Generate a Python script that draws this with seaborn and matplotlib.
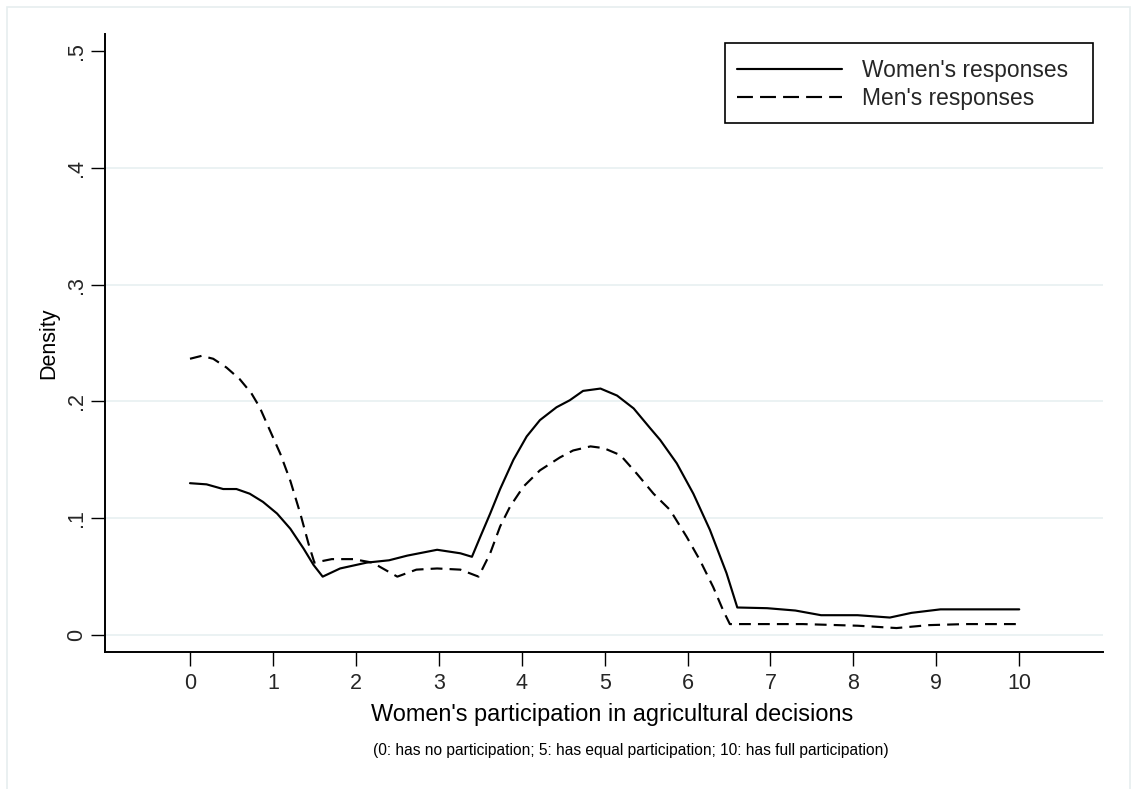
import numpy as np
import pandas as pd
import matplotlib
matplotlib.use("Agg")
import matplotlib.pyplot as plt
import seaborn as sns
from matplotlib.patches import Rectangle
from matplotlib.lines import Line2D

# ---- data ----
women_x = [0.00, 0.20, 0.40, 0.56, 0.72, 0.88, 1.05, 1.21, 1.37, 1.49, 1.60, 1.81,
           2.13, 2.40, 2.62, 2.98, 3.26, 3.40, 3.50, 3.62, 3.74, 3.90, 4.06, 4.22,
           4.42, 4.58, 4.74, 4.95, 5.15, 5.35, 5.55, 5.67, 5.87, 6.07, 6.27, 6.47,
           6.60, 6.96, 7.30, 7.61, 8.05, 8.44, 8.70, 9.05, 9.35, 9.65, 10.0]
women_y = [0.130, 0.129, 0.125, 0.125, 0.121, 0.114, 0.104, 0.091, 0.074, 0.060,
           0.050, 0.057, 0.062, 0.064, 0.068, 0.073, 0.070, 0.067, 0.084, 0.104,
           0.125, 0.150, 0.170, 0.184, 0.195, 0.201, 0.209, 0.211, 0.205, 0.194,
           0.177, 0.167, 0.147, 0.121, 0.090, 0.053, 0.0236, 0.023, 0.021, 0.017,
           0.017, 0.015, 0.019, 0.022, 0.022, 0.022, 0.022]

men_x = [0.00, 0.14, 0.28, 0.44, 0.60, 0.74, 0.84, 0.965, 1.09, 1.21, 1.33, 1.43,
         1.50, 1.71, 1.97, 2.20, 2.50, 2.73, 2.98, 3.26, 3.48, 3.62, 3.74, 3.86,
         4.02, 4.22, 4.46, 4.62, 4.83, 4.99, 5.19, 5.39, 5.59, 5.79, 5.99, 6.15,
         6.31, 6.43, 6.51, 6.74, 7.39, 8.05, 8.52, 8.91, 9.35, 10.0]
men_y = [0.2365, 0.239, 0.2365, 0.229, 0.219, 0.207, 0.195, 0.175, 0.155, 0.132,
         0.104, 0.078, 0.062, 0.065, 0.065, 0.062, 0.050, 0.056, 0.057, 0.056,
         0.050, 0.070, 0.093, 0.110, 0.127, 0.141, 0.152, 0.158, 0.1615, 0.160,
         0.154, 0.138, 0.121, 0.107, 0.084, 0.064, 0.041, 0.021, 0.0094, 0.0094,
         0.0094, 0.008, 0.006, 0.0085, 0.0094, 0.0094]

series_labels = ["Women's responses", "Men's responses"]
x_ticks = list(range(0, 11))
y_ticks = [0, 0.1, 0.2, 0.3, 0.4, 0.5]
y_tick_labels = ["0", ".1", ".2", ".3", ".4", ".5"]
x_title = "Women's participation in agricultural decisions"
x_note = "(0: has no participation; 5: has equal participation; 10: has full participation)"
y_title = "Density"

df = pd.concat([
    pd.DataFrame({"x": women_x, "y": women_y, "series": series_labels[0]}),
    pd.DataFrame({"x": men_x, "y": men_y, "series": series_labels[1]}),
], ignore_index=True)

sns.set_theme(style="white")
plt.rcParams['font.family'] = ['Liberation Sans', 'DejaVu Sans']

W, H = 1131, 789
fig = plt.figure(figsize=(W / 100, H / 100), dpi=100)
fig.patch.set_facecolor("white")

def fx(px):
    return px / W

def fy(py):
    return 1 - py / H

# outer light frame
fig.add_artist(Rectangle((fx(7), -0.05), (1130 - 7) / W, 1 - 7 / H + 0.05,
                         transform=fig.transFigure, fill=False,
                         edgecolor="#e6eeef", linewidth=1.2))

left, right, top, bottom = 105, 1103, 34, 652
ax = fig.add_axes([fx(left), fy(bottom), (right - left) / W, (bottom - top) / H])

for yv in y_ticks[:-1]:
    ax.axhline(yv, color="#e9f1f2", linewidth=1.3, zorder=0)

LW = 1.55
DASH = (5.5, 3.3)
sns.lineplot(data=df, x="x", y="y", style="series", sort=False, estimator=None,
             units="series", color="black", linewidth=LW,
             dashes={series_labels[0]: "", series_labels[1]: DASH},
             ax=ax, legend=False)

ax.set_xlim(-1.025, 11.01)
ax.set_ylim(-0.0145, 0.5145)
ax.set_xticks(x_ticks)
ax.set_xticklabels([str(t) for t in x_ticks], fontsize=15.5)
ax.set_yticks(y_ticks)
ax.set_yticklabels(y_tick_labels, fontsize=15.5, rotation=90, va="center")
ax.tick_params(axis="both", direction="out", length=10, width=1.0, color="black",
               bottom=True, left=True)
ax.tick_params(axis="x", pad=5)
ax.tick_params(axis="y", pad=3)
for s in ["top", "right"]:
    ax.spines[s].set_visible(False)
for s in ["left", "bottom"]:
    ax.spines[s].set_color("black")
    ax.spines[s].set_linewidth(1.4)

ax.set_xlabel("")
ax.set_ylabel("")
fig.text(fx(612), fy(714), x_title, ha="center", va="center",
         fontsize=16.9, color="black")
fig.text(fx(630.5), fy(751), x_note, ha="center", va="center",
         fontsize=11.2, color="black")
fig.text(fx(49), fy(343), y_title, rotation=90, ha="center", va="center",
         fontsize=15.5, color="black")

# legend: box drawn separately (Stata-style padding), entries via fig.legend
fig.add_artist(Rectangle((fx(725), fy(123)), (1093 - 725) / W, (123 - 43) / H,
                         transform=fig.transFigure, fill=True, facecolor="white",
                         edgecolor="black", linewidth=1.2, zorder=4))
handles = [Line2D([], [], color="black", linewidth=LW),
           Line2D([], [], color="black", linewidth=LW, dashes=(7.4, 3.3))]
leg = fig.legend(handles, series_labels, loc="upper left",
                 bbox_to_anchor=(fx(737), fy(59)), bbox_transform=fig.transFigure,
                 frameon=False, fontsize=16.4, handlelength=4.6,
                 handletextpad=0.9, borderpad=0.0, labelspacing=0.22, borderaxespad=0)
leg.set_zorder(5)

fig.savefig("out.png", dpi=100, facecolor="white")
